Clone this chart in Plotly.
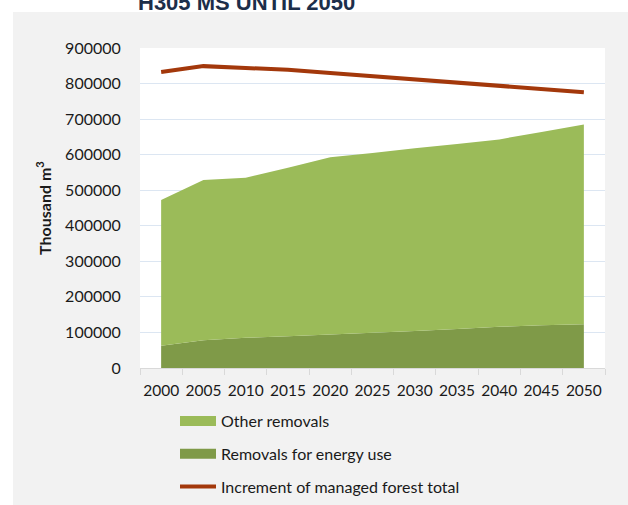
import plotly.graph_objects as go

years = ["2000", "2005", "2010", "2015", "2020", "2025", "2030", "2035", "2040", "2045", "2050"]
energy_use = [62700, 78000, 85000, 89000, 94000, 99000, 104000, 110000, 116000, 120000, 123000]
other_removals = [409800, 450700, 450000, 474000, 498500, 506000, 514000, 520000, 527000, 544000, 562000]
increment_total = [832500, 849000, 844000, 838500, 830000, 821000, 812000, 803000, 794000, 785000, 775500]

names = ["Other removals", "Removals for energy use", "Increment of managed forest total"]
title_text = "H305 MS UNTIL 2050"

L, R, T, B = 140, 605, 48, 368
W, H = 628, 505
pw, ph = R - L, B - T

def px_x(x):
    return (x - L) / pw

def px_y(y):
    return (B - y) / ph

FONT = "Lato"
C_OTHER, C_ENERGY, C_LINE = "#9BBB59", "#7F9A48", "#A3380B"

fig = go.Figure()
fig.add_trace(go.Scatter(
    x=years, y=energy_use, name=names[1], stackgroup="one", mode="none",
    fillcolor=C_ENERGY, showlegend=False, hoverinfo="skip"))
fig.add_trace(go.Scatter(
    x=years, y=other_removals, name=names[0], stackgroup="one", mode="none",
    fillcolor=C_OTHER, showlegend=False, hoverinfo="skip"))
fig.add_trace(go.Scatter(
    x=years, y=increment_total, name=names[2], mode="lines",
    line=dict(color=C_LINE, width=4), legendgroup="c", legendrank=3, hoverinfo="skip"))
# legend swatches for the two areas
fig.add_trace(go.Scatter(
    x=[None], y=[None], name=names[0], mode="lines",
    line=dict(color=C_OTHER, width=11), legendgroup="a", legendrank=1, hoverinfo="skip"))
fig.add_trace(go.Scatter(
    x=[None], y=[None], name=names[1], mode="lines",
    line=dict(color=C_ENERGY, width=11), legendgroup="b", legendrank=2, hoverinfo="skip"))

fig.update_layout(
    width=W, height=H,
    margin=dict(l=L, r=W - R, t=T, b=H - B, autoexpand=False),
    paper_bgcolor="white", plot_bgcolor="white",
    font=dict(family=FONT, size=16, color="#1A1A1A"),
    showlegend=True,
    legend=dict(
        orientation="v", x=px_x(175), xanchor="left", y=px_y(404), yanchor="top",
        bgcolor="rgba(0,0,0,0)", font=dict(family=FONT, size=16, color="#1A1A1A"),
        tracegroupgap=9, traceorder="grouped", itemwidth=36),
    xaxis=dict(
        type="category", range=[-0.5, 10.5], tickson="boundaries", tickangle=0,
        automargin=False,
        showgrid=False, showline=True, linecolor="#D9D9D9", linewidth=1,
        ticks="outside", ticklen=6, tickcolor="#D9D9D9", ticklabelstandoff=8,
        tickfont=dict(family=FONT, size=15.5, color="#1A1A1A"), fixedrange=True),
    yaxis=dict(
        range=[0, 900000], dtick=100000, tickformat="d", automargin=False,
        showgrid=True, gridcolor="#DCE6F2", gridwidth=1.2,
        zeroline=False, showline=False,
        ticks="outside", ticklen=15, tickcolor="rgba(0,0,0,0)",
        tickfont=dict(family=FONT, size=16, color="#1A1A1A"),
        title=dict(text="<b>Thousand m<sup>3</sup></b>", standoff=9,
                   font=dict(family=FONT, size=16, color="#1A1A1A")),
        fixedrange=True),
    shapes=[
        dict(type="rect", xref="paper", yref="paper",
             x0=px_x(13), x1=px_x(640), y0=px_y(520), y1=px_y(12),
             fillcolor="#F2F2F2", line=dict(width=0), layer="below"),
        dict(type="rect", xref="paper", yref="paper",
             x0=0, x1=1, y0=0, y1=1,
             fillcolor="white", line=dict(width=0), layer="below"),
    ],
    annotations=[
        dict(text="<b>" + title_text + "</b>", xref="paper", yref="paper",
             x=px_x(136), y=px_y(17), xanchor="left", yanchor="bottom",
             showarrow=False,
             font=dict(family="Liberation Sans", size=22, color="#1C2E4A")),
    ],
)

fig.write_html(
    "out.html",
    config={"displayModeBar": False},
    post_script="document.body.style.margin='0px';document.body.style.padding='0px';",
)
